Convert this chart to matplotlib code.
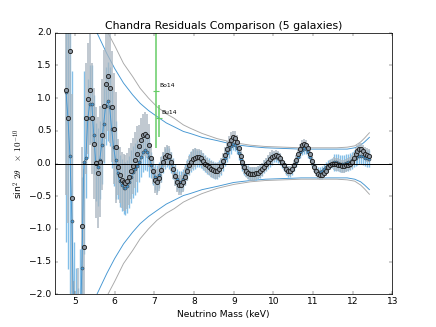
import numpy as np
import matplotlib
matplotlib.use("Agg")
import matplotlib.pyplot as plt

plt.style.use('classic')

# mass grid (keV), 0.05 keV steps
mass = np.round(np.arange(4.77, 12.43, 0.05), 2)

# residuals, gray series (sin^2 2theta x 1e-10)
gray_res = [
    1.12, 0.69, 1.72, -0.53, -3.0, -3.5, -2.8, -3.2, -0.95, -1.28,
    0.69, 0.99, 1.13, 0.69, 0.30, 0.01, -0.14, 0.03, 0.44, 0.88,
    1.22, 1.34, 1.16, 0.87, 0.53, 0.25,
    -0.05, -0.18, -0.25, -0.29, -0.30, -0.27, -0.20, -0.12, -0.04, 0.05,
    0.15, 0.26, 0.36, 0.43, 0.45, 0.42, 0.28, 0.08, -0.12, -0.25,
    -0.28, -0.22, -0.10, 0.02, 0.10, 0.13, 0.11, 0.03, -0.08, -0.19,
    -0.28, -0.33, -0.33, -0.28, -0.20, -0.11, -0.03, 0.03, 0.07, 0.09,
    0.10, 0.10, 0.08, 0.04, 0.00, -0.03, -0.06, -0.08, -0.10, -0.11,
    -0.11, -0.09, -0.04, 0.04, 0.13, 0.22, 0.30, 0.36, 0.40, 0.39,
    0.33, 0.23, 0.12, 0.02, -0.06, -0.11, -0.14, -0.16, -0.16, -0.16,
    -0.15, -0.14, -0.12, -0.09, -0.05, -0.01, 0.03, 0.07, 0.10, 0.12,
    0.13, 0.12, 0.08, 0.03, -0.03, -0.08, -0.11, -0.11, -0.08, -0.02,
    0.06, 0.15, 0.22, 0.28, 0.30, 0.29, 0.23, 0.14, 0.04, -0.05,
    -0.12, -0.16, -0.18, -0.18, -0.15, -0.11, -0.06, -0.02, 0.00, 0.00,
    -0.01, -0.02, -0.03, -0.04, -0.04, -0.03, -0.02, 0.00, 0.03, 0.08,
    0.14, 0.19, 0.22, 0.22, 0.19, 0.15, 0.13, 0.12,
]

# residuals, blue series
blue_res = [
    1.10, 0.69, 0.11, -0.88, -2.6, -3.0, -3.3, -2.7, -1.6, 0.02,
    0.08, 0.69, 0.91, 0.91, 0.44, 0.02, -0.05, 0.05, 0.29, 0.61,
    0.88, 0.95, 0.87, 0.53, 0.25, 0.05,
    -0.15, -0.27, -0.33, -0.37, -0.38, -0.35, -0.28, -0.20, -0.13, -0.08,
    -0.04, 0.02, 0.10, 0.17, 0.20, 0.18, 0.10, -0.02, -0.13, -0.21,
    -0.23, -0.18, -0.08, 0.02, 0.08, 0.10, 0.08, 0.01, -0.08, -0.17,
    -0.24, -0.28, -0.28, -0.24, -0.17, -0.09, -0.02, 0.03, 0.06, 0.08,
    0.08, 0.08, 0.06, 0.03, 0.00, -0.03, -0.05, -0.07, -0.09, -0.10,
    -0.10, -0.08, -0.04, 0.02, 0.09, 0.16, 0.22, 0.27, 0.30, 0.29,
    0.24, 0.16, 0.07, -0.01, -0.07, -0.11, -0.13, -0.15, -0.15, -0.15,
    -0.15, -0.14, -0.12, -0.09, -0.05, -0.02, 0.02, 0.05, 0.08, 0.10,
    0.10, 0.09, 0.06, 0.01, -0.04, -0.09, -0.12, -0.13, -0.10, -0.04,
    0.03, 0.10, 0.17, 0.21, 0.23, 0.22, 0.17, 0.10, 0.02, -0.05,
    -0.10, -0.13, -0.13, -0.12, -0.09, -0.06, -0.03, -0.01, 0.01, 0.02,
    0.02, 0.01, 0.00, 0.00, 0.00, 0.01, 0.02, 0.03, 0.05, 0.07,
    0.09, 0.11, 0.12, 0.12, 0.11, 0.09, 0.08, 0.07,
]

# error sizes read per stretch of the curve
seg_len = [4, 6, 16, 11, 6, 6, 17, 18, 21, 30, 19]
gray_err = np.repeat([1.6, 1.2, 0.85, 0.43, 0.33, 0.2, 0.15, 0.12, 0.1, 0.075, 0.1], seg_len)
blue_err = np.repeat([2.3, 1.4, 0.6, 0.4, 0.3, 0.2, 0.16, 0.13, 0.1, 0.08, 0.13], seg_len)

# sensitivity envelopes (plotted as +/-)
env_mass = [5.4, 5.55, 5.8, 6.0, 6.22, 6.45, 6.64, 6.85, 7.06, 7.3, 7.5, 7.73, 7.9, 8.2,
            8.58, 9.0, 9.42, 9.8, 10.26, 10.7, 11.2, 11.6, 11.86, 12.05, 12.2, 12.3, 12.42]
blue_env = [2.25, 2.0, 1.68, 1.45, 1.23, 1.05, 0.92, 0.81, 0.72, 0.62, 0.56, 0.49, 0.46, 0.40,
            0.35, 0.29, 0.26, 0.24, 0.23, 0.22, 0.22, 0.22, 0.22, 0.24, 0.28, 0.33, 0.40]
gray_env = [2.7, 2.45, 2.03, 1.8, 1.53, 1.33, 1.15, 1.0, 0.87, 0.76, 0.69, 0.59, 0.54, 0.46,
            0.38, 0.32, 0.28, 0.26, 0.25, 0.24, 0.24, 0.24, 0.25, 0.27, 0.33, 0.39, 0.47]

# published detections
lit_names = ["Bo14", "Bu14"]
lit_mass = [7.05, 7.11]
lit_val = [1.11, 0.70]
lit_lo = [0.88, 0.29]
lit_hi = [0.88, 0.19]

blue = '#4496d2'
lblue = '#6fb4e4'
gray = '#a8a8a8'
gbar = '#aab6c0'

env_mass = np.array(env_mass)
fig = plt.figure(figsize=(8, 6))
ax = fig.add_subplot(111)

ax.plot(env_mass, blue_env, color=blue, lw=1.2)
ax.plot(env_mass, -np.array(blue_env), color=blue, lw=1.2)
ax.plot(env_mass, gray_env, color=gray, lw=1.2)
ax.plot(env_mass, -np.array(gray_env), color=gray, lw=1.2)

ax.errorbar(mass, blue_res, yerr=blue_err, fmt='none', ecolor=lblue, elinewidth=1.8,
            capsize=0, alpha=0.85)
ax.errorbar(mass, gray_res, yerr=gray_err, fmt='none', ecolor=gbar, elinewidth=2.4,
            capsize=0, alpha=0.8)
ax.plot(mass, blue_res, '-o', color=blue, lw=1.2, ms=4, mfc=blue, mec='#444444', mew=0.7)
ax.plot(mass, gray_res, 'o', ms=5.5, mfc='#8e9aa6', mec='#222222', mew=1.2)

ax.axhline(0, color='k', lw=1.3)

ax.errorbar(lit_mass, lit_val, yerr=[lit_lo, lit_hi], fmt='_', color='#66cc66', ms=7,
            mew=1.5, elinewidth=2, capsize=0)
ax.text(7.12, 1.19, lit_names[0], fontsize=8, va='center')
ax.text(7.17, 0.78, lit_names[1], fontsize=8, va='center')

ax.set_xlim(4.48, 13)
ax.set_ylim(-2, 2)
ax.set_xticks(range(5, 14))
ax.set_yticks(np.arange(-2, 2.01, 0.5))
ax.set_title('Chandra Residuals Comparison (5 galaxies)', fontsize=14.4)
ax.set_xlabel('Neutrino Mass (keV)', fontsize=12)
ax.set_ylabel(r'sin$^2$ $2\theta$   $\times$ $10^{-10}$', fontsize=12)

plt.savefig('out.png', dpi=54.5)
plt.close()
